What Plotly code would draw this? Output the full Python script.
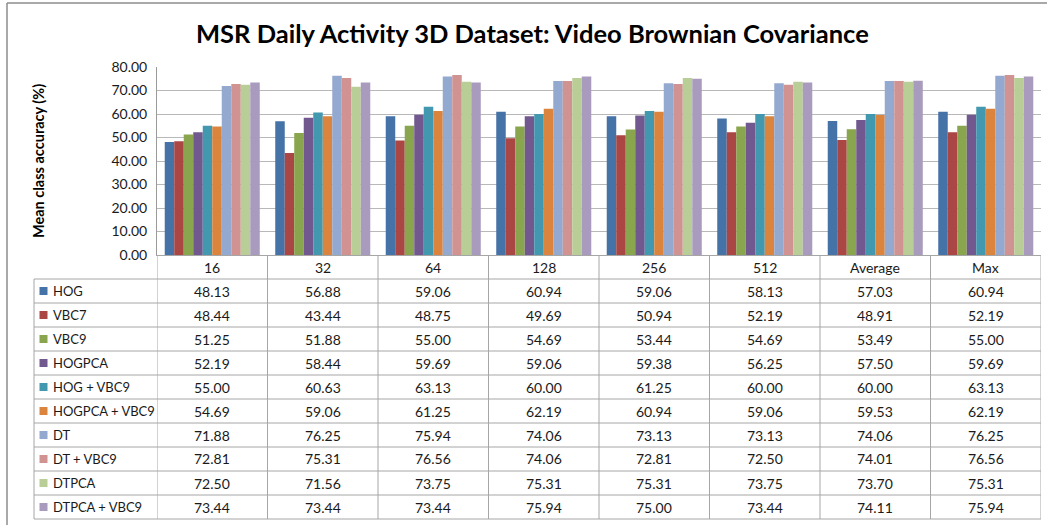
import plotly.graph_objects as go

categories = ["16", "32", "64", "128", "256", "512", "Average", "Max"]
series_names = ["HOG", "VBC7", "VBC9", "HOGPCA", "HOG + VBC9", "HOGPCA + VBC9",
                "DT", "DT + VBC9", "DTPCA", "DTPCA + VBC9"]
hog = [48.13, 56.88, 59.06, 60.94, 59.06, 58.13, 57.03, 60.94]
vbc7 = [48.44, 43.44, 48.75, 49.69, 50.94, 52.19, 48.91, 52.19]
vbc9 = [51.25, 51.88, 55.00, 54.69, 53.44, 54.69, 53.49, 55.00]
hogpca = [52.19, 58.44, 59.69, 59.06, 59.38, 56.25, 57.50, 59.69]
hog_vbc9 = [55.00, 60.63, 63.13, 60.00, 61.25, 60.00, 60.00, 63.13]
hogpca_vbc9 = [54.69, 59.06, 61.25, 62.19, 60.94, 59.06, 59.53, 62.19]
dt = [71.88, 76.25, 75.94, 74.06, 73.13, 73.13, 74.06, 76.25]
dt_vbc9 = [72.81, 75.31, 76.56, 74.06, 72.81, 72.50, 74.01, 76.56]
dtpca = [72.50, 71.56, 73.75, 75.31, 75.31, 73.75, 73.70, 75.31]
dtpca_vbc9 = [73.44, 73.44, 73.44, 75.94, 75.00, 73.44, 74.11, 75.94]
series_values = [hog, vbc7, vbc9, hogpca, hog_vbc9, hogpca_vbc9, dt, dt_vbc9, dtpca, dtpca_vbc9]
colors = ["#4572A7", "#AA4643", "#89A54E", "#71588F", "#4198AF", "#DB843D",
          "#93A9CF", "#D19392", "#B9CD96", "#A99BBD"]

W, H = 1047, 525
PL, PR, PT, PB = 157, 1041, 67, 255
FONT = "Lato, Carlito, Calibri, sans-serif"
TXT = "#1a1a1a"
LINE = "#a6a6a6"


def px(x):
    return (x - PL) / (PR - PL)


def py(y):
    return (PB - y) / (PB - PT)


fig = go.Figure()
for name, vals, c in zip(series_names, series_values, colors):
    fig.add_trace(go.Bar(name=name, x=categories, y=vals, marker=dict(color=c, line=dict(width=0))))

shapes = []
annotations = []

# outer border
shapes.append(dict(type="line", xref="paper", yref="paper", x0=px(7), x1=px(W + 5), y0=py(3), y1=py(3),
                   line=dict(color="#8c8c8c", width=1.5)))
shapes.append(dict(type="line", xref="paper", yref="paper", x0=px(7), x1=px(7), y0=py(3), y1=py(H + 5),
                   line=dict(color="#8c8c8c", width=1.5)))

row_h = 24
hdr_bot = 279
n_rows = len(series_names)
tbl_bot = hdr_bot + row_h * n_rows

# vertical table lines at category boundaries
for i in range(len(categories) + 1):
    shapes.append(dict(type="line", xref="x", yref="paper", x0=i - 0.5, x1=i - 0.5,
                       y0=py(PB), y1=py(tbl_bot), line=dict(color=LINE, width=1)))
# label column left edge
shapes.append(dict(type="line", xref="paper", yref="paper", x0=px(34), x1=px(34),
                   y0=py(hdr_bot), y1=py(tbl_bot), line=dict(color=LINE, width=1)))
# horizontal lines
for r in range(n_rows + 1):
    yy = hdr_bot + r * row_h
    shapes.append(dict(type="line", xref="paper", yref="paper", x0=px(34), x1=1,
                       y0=py(yy), y1=py(yy), line=dict(color=LINE, width=1)))

# header labels
for i, c in enumerate(categories):
    annotations.append(dict(x=i, xref="x", y=py((PB + hdr_bot) / 2), yref="paper", text=c,
                            showarrow=False, font=dict(family=FONT, size=14, color=TXT),
                            xanchor="center", yanchor="middle"))

# rows
for r, (name, vals, col) in enumerate(zip(series_names, series_values, colors)):
    yc = hdr_bot + r * row_h + row_h / 2
    shapes.append(dict(type="rect", xref="paper", yref="paper", x0=px(39.5), x1=px(47.5),
                       y0=py(yc - 4), y1=py(yc + 4), fillcolor=col, line=dict(width=0)))
    annotations.append(dict(x=px(51), xref="paper", y=py(yc), yref="paper", text=name,
                            showarrow=False, font=dict(family=FONT, size=13, color=TXT),
                            xanchor="left", yanchor="middle"))
    for i, v in enumerate(vals):
        annotations.append(dict(x=i, xref="x", y=py(yc), yref="paper", text=f"{v:.2f}",
                                showarrow=False, font=dict(family=FONT, size=14, color=TXT),
                                xanchor="center", yanchor="middle"))

# title
annotations.append(dict(x=px(532), xref="paper", y=py(33), yref="paper",
                        text="<b>MSR Daily Activity 3D Dataset: Video Brownian Covariance</b>",
                        showarrow=False, font=dict(family=FONT, size=25.5, color="#000000"),
                        xanchor="center", yanchor="middle"))
# y axis title
annotations.append(dict(x=px(38), xref="paper", y=py(161), yref="paper",
                        text="<b>Mean class accuracy (%)</b>", textangle=-90,
                        showarrow=False, font=dict(family=FONT, size=14.5, color="#000000"),
                        xanchor="center", yanchor="middle"))

fig.update_layout(
    width=W, height=H, autosize=False,
    margin=dict(l=PL, r=W - PR, t=PT, b=H - PB, pad=0),
    paper_bgcolor="white", plot_bgcolor="white",
    barmode="group", bargap=0.14, bargroupgap=0,
    showlegend=False,
    xaxis=dict(type="category", range=[-0.5, len(categories) - 0.5], showticklabels=False,
               showgrid=False, showline=True, linecolor=LINE, linewidth=1, ticks="", zeroline=False),
    yaxis=dict(range=[0, 80], dtick=10, tickformat=".2f", showgrid=True, gridcolor="#b8b8b8",
               gridwidth=1, showline=True, linecolor="#9a9a9a", linewidth=1, ticks="",
               zeroline=False, tickfont=dict(family=FONT, size=14, color=TXT), ticklabelstandoff=6),
    shapes=shapes, annotations=annotations,
)

fig.write_html("out.html", config={"displayModeBar": False},
               post_script="document.body.style.margin='0';document.body.style.overflow='hidden';")
